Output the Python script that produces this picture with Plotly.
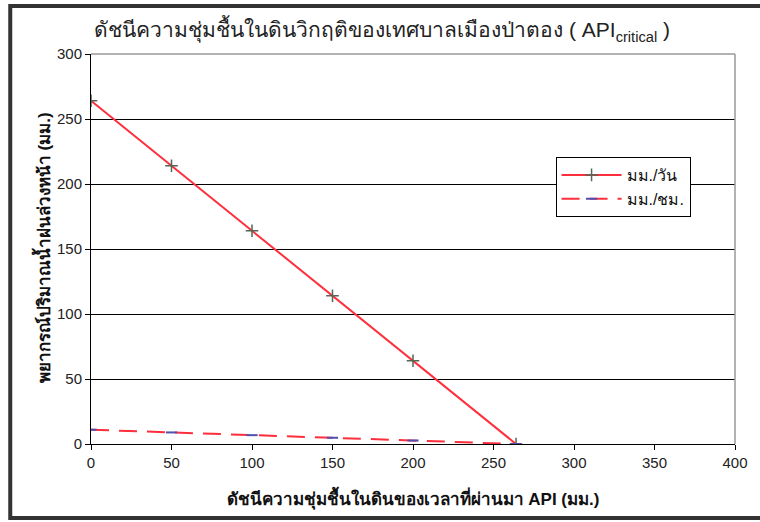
import plotly.graph_objects as go

api_x = [0, 50, 100, 150, 200, 264]
rain_mm_day = [264, 214, 164, 114, 64, 0]
rain_mm_hr = [11.0, 8.9, 6.8, 4.8, 2.7, 0]
series_names = ["มม./วัน", "มม./ชม."]

title_text = "ดัชนีความชุ่มชื้นในดินวิกฤติของเทศบาลเมืองป่าตอง ( API<sub>critical</sub> )"
x_title = "<b>ดัชนีความชุ่มชื้นในดินของเวลาที่ผ่านมา API (มม.)</b>"
y_title = "<b>พยากรณ์ปริมาณน้ำฝนล่วงหน้า (มม.)</b>"

FONT = "Liberation Sans, Arial, sans-serif"

fig = go.Figure()
fig.add_trace(go.Scatter(
    x=api_x, y=rain_mm_day, name=series_names[0], mode="lines+markers",
    line=dict(color="#FF2E3C", width=2),
    marker=dict(symbol="cross-thin", size=9, line=dict(color="#556655", width=1.5)),
))
fig.add_trace(go.Scatter(
    x=api_x, y=rain_mm_hr, name=series_names[1], mode="lines+markers",
    line=dict(color="#FF2E3C", width=2, dash="18px,10px"),
    marker=dict(symbol="line-ew", size=8, line=dict(color="#5050B0", width=2)),
))

L, R, T, B = 91, 23, 54, 78
W, H = 760, 522
pw, ph = W - L - R, H - T - B

def px(x):
    return (x - L) / pw

def py(y):
    return (H - B - y) / ph

fig.update_layout(
    width=W, height=H,
    margin=dict(l=L, r=R, t=T, b=B),
    paper_bgcolor="white", plot_bgcolor="white",
    font=dict(family=FONT, color="#222222", size=15),
    title=dict(text=title_text, x=px(383), xref="paper", xanchor="center",
               y=(H - 30) / H, yanchor="middle", font=dict(size=21, color="#222222")),
    showlegend=True,
    legend=dict(x=px(557), y=py(157), xanchor="left", yanchor="top",
                bgcolor="white", bordercolor="black", borderwidth=1,
                font=dict(size=16, color="#111111"), itemwidth=60,
                tracegroupgap=4),
    xaxis=dict(range=[0, 400], tickvals=[0, 50, 100, 150, 200, 250, 300, 350, 400],
               showgrid=False, zeroline=False, showline=True, linecolor="black",
               linewidth=1, ticks="outside", ticklen=5, tickcolor="black",
               tickfont=dict(size=15),
               title=dict(text=x_title, font=dict(size=17, color="#111111"), standoff=23)),
    yaxis=dict(range=[0, 300], tickvals=[0, 50, 100, 150, 200, 250, 300],
               showgrid=True, gridcolor="black", gridwidth=1, zeroline=False,
               showline=True, linecolor="black", linewidth=1,
               ticks="outside", ticklen=5, tickcolor="black",
               tickfont=dict(size=15)),
    annotations=[
        dict(text=y_title, textangle=-90, xref="paper", yref="paper",
             x=px(42), y=py(248), xanchor="center", yanchor="middle",
             showarrow=False, font=dict(size=17, color="#111111")),
    ],
    shapes=[
        dict(type="line", xref="paper", yref="paper", x0=0, x1=1, y0=1, y1=1,
             line=dict(color="#999999", width=1.5)),
        dict(type="line", xref="paper", yref="paper", x0=1, x1=1, y0=0, y1=1,
             line=dict(color="#999999", width=1.5)),
        dict(type="rect", xref="paper", yref="paper",
             x0=px(10), x1=px(770), y0=py(518), y1=py(6),
             line=dict(color="#333333", width=4), layer="above"),
    ],
)

fig.write_html("out.html")
